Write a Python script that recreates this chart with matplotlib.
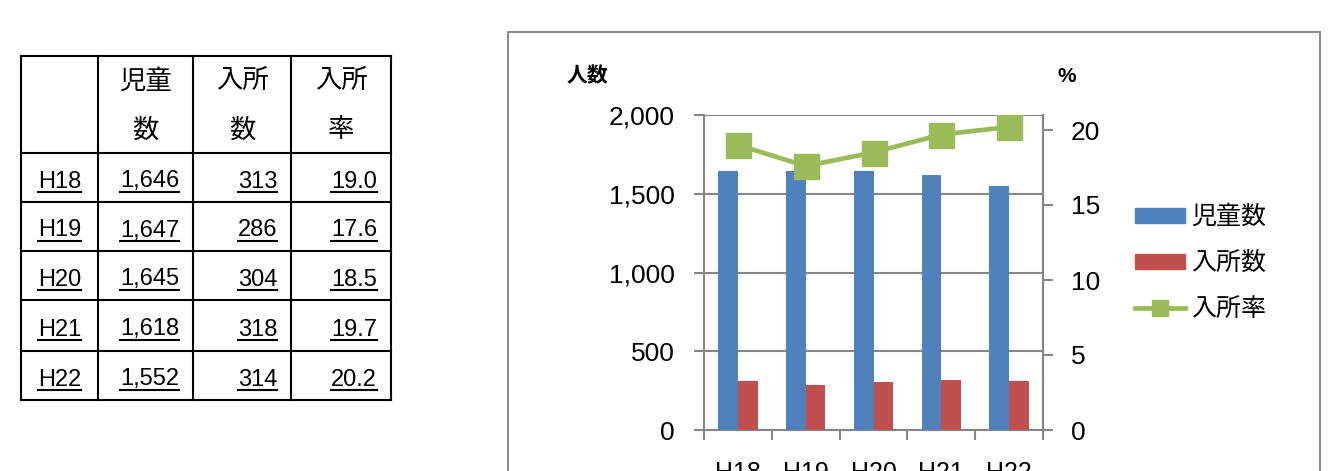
import matplotlib
matplotlib.use("Agg")
import matplotlib.pyplot as plt
from matplotlib.patches import Rectangle
from matplotlib.lines import Line2D
from matplotlib.ticker import FuncFormatter
import numpy as np

years = ["H18", "H19", "H20", "H21", "H22"]
children = [1646, 1647, 1645, 1618, 1552]
admitted = [313, 286, 304, 318, 314]
rate = [19.0, 17.6, 18.5, 19.7, 20.2]
headers = [["児童", "数"], ["入所", "数"], ["入所", "率"]]

BLUE = "#4F81BD"
RED = "#C0504D"
GREEN = "#9BBB59"
GRID = "#868686"
JP = ["Noto Sans CJK JP", "DejaVu Sans"]
NUM = ["Liberation Sans", "DejaVu Sans"]

W, H = 1333, 471
fig = plt.figure(figsize=(W / 100, H / 100), dpi=100)


def fx(px):
    return px / W


def fy(py):
    return 1 - py / H


# ---------------- table ----------------
col_edges = [21, 98, 193, 291, 391]
row_edges = [56, 153, 202, 251, 300, 351, 400]
for x in col_edges:
    fig.add_artist(Line2D([fx(x), fx(x)], [fy(row_edges[0]), fy(row_edges[-1])],
                          color="black", lw=1.5))
for y in row_edges:
    fig.add_artist(Line2D([fx(col_edges[0]), fx(col_edges[-1])], [fy(y), fy(y)],
                          color="black", lw=1.5))

for i, (l1, l2) in enumerate(headers):
    cx = (col_edges[i + 1] + col_edges[i + 2]) / 2
    fig.text(fx(cx), fy(81), l1, family=JP, fontsize=19, ha="center", va="center")
    fig.text(fx(cx), fy(130), l2, family=JP, fontsize=19, ha="center", va="center")

renderer = fig.canvas.get_renderer()


def underlined_text(px, py, s, ha):
    t = fig.text(fx(px), fy(py + 9), s, family=NUM, fontsize=17, ha=ha,
                 va="baseline")
    bb = t.get_window_extent(renderer)
    uy = fy(py + 13)
    fig.add_artist(Line2D([bb.x0 / W, bb.x1 / W], [uy, uy], color="black", lw=1.5))


for r in range(len(years)):
    cy = (row_edges[r + 1] + row_edges[r + 2]) / 2 + 1
    underlined_text((col_edges[0] + col_edges[1]) / 2, cy, years[r], "center")
    vals = [f"{children[r]:,}", f"{admitted[r]}", f"{rate[r]:.1f}"]
    for c, v in enumerate(vals):
        underlined_text(col_edges[c + 2] - 14, cy, v, "right")

# ---------------- chart frame ----------------
fig.add_artist(Rectangle((fx(508), fy(500)), fx(1320) - fx(508), fy(32) - fy(500),
                         fill=False, edgecolor="#8C8C8C", lw=1.5))

# ---------------- chart ----------------
ax = fig.add_axes([fx(704), fy(430), fx(1043) - fx(704), fy(115) - fy(430)])
x = np.arange(len(years))
bw = 0.29
ax.bar(x - bw / 2, children, width=bw, color=BLUE, zorder=3, label="児童数")
ax.bar(x + bw / 2, admitted, width=bw, color=RED, zorder=3, label="入所数")
ax.set_xlim(-0.5, len(years) - 0.5)
ax.set_ylim(0, 2000)
ax.set_yticks([0, 500, 1000, 1500, 2000])
ax.yaxis.set_major_formatter(FuncFormatter(lambda v, p: f"{int(v):,}"))
ax.grid(axis="y", color=GRID, lw=1.5, zorder=0)
ax.set_axisbelow(True)

ax.set_xticks(np.arange(len(years) + 1) - 0.5)
ax.set_xticklabels([])
ax.set_xticks(x, minor=True)
ax.set_xticklabels(years, minor=True)
ax.tick_params(axis="x", which="major", length=7, width=1.5, color=GRID)
ax.tick_params(axis="x", which="minor", length=0, pad=22, labelsize=18)
ax.tick_params(axis="y", length=7, width=1.5, color=GRID, labelsize=19, pad=14)
for lab in ax.get_xticklabels(minor=True) + ax.get_yticklabels():
    lab.set_family(NUM)
for s in ["left", "right", "bottom", "top"]:
    ax.spines[s].set_color(GRID)
    ax.spines[s].set_linewidth(1.5)
ax.spines["top"].set_visible(False)

ax2 = ax.twinx()
ax2.plot(x, rate, color=GREEN, lw=3.4, marker="s", markersize=18,
         zorder=4, label="入所率")
ax2.set_ylim(0, 21)
ax2.set_yticks([0, 5, 10, 15, 20])
ax2.tick_params(axis="y", length=7, width=1.5, color=GRID, labelsize=19, pad=13)
for lab in ax2.get_yticklabels():
    lab.set_family(NUM)
for s in ["left", "right", "bottom", "top"]:
    ax2.spines[s].set_visible(False)
ax2.spines["right"].set_visible(True)
ax2.spines["right"].set_color(GRID)
ax2.spines["right"].set_linewidth(1.5)

fig.text(fx(567), fy(76), "人数", family=JP, fontsize=15, fontweight="bold",
         ha="left", va="center")
fig.text(fx(1057), fy(77), "%", family=NUM, fontsize=15, fontweight="bold",
         ha="left", va="center")

handles = [Rectangle((0, 0), 1, 1, color=BLUE),
           Rectangle((0, 0), 1, 1, color=RED),
           Line2D([], [], color=GREEN, lw=3.4, marker="s", markersize=12)]
fig.legend(handles, ["児童数", "入所数", "入所率"], loc="center left",
           bbox_to_anchor=(fx(1125), fy(263)), frameon=False,
           prop={"family": JP, "size": 18}, handlelength=2.0, handleheight=0.55,
           labelspacing=0.8, handletextpad=0.25, borderaxespad=0)

fig.savefig("out.png", dpi=100)
